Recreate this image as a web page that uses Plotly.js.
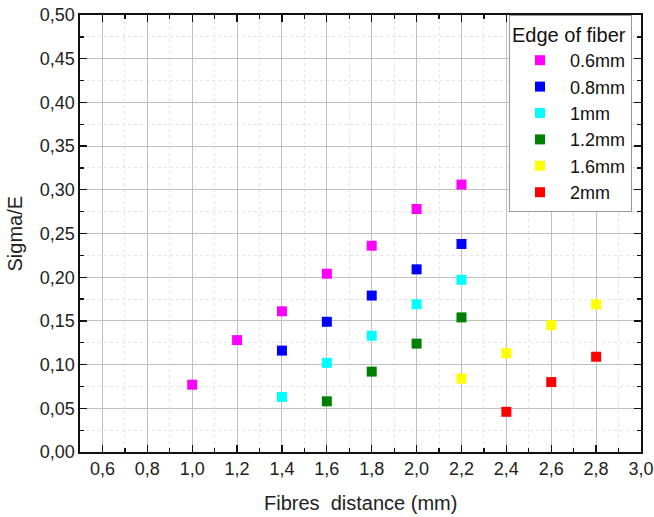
<!DOCTYPE html>
<html><head><meta charset="utf-8">
<script src="https://cdn.plot.ly/plotly-3.0.1.min.js"></script>
<style>html,body{margin:0;padding:0;background:#fff}#chart{width:654px;height:517px}</style>
</head><body><div id="chart"></div>
<script>
const seriesNames = ["0.6mm", "0.8mm", "1mm", "1.2mm", "1.6mm", "2mm"];
const seriesColors = ["#FF00FF", "#0000FF", "#00FFFF", "#008000", "#FFFF00", "#FF0000"];
const x06 = [1.0, 1.2, 1.4, 1.6, 1.8, 2.0, 2.2];
const y06 = [0.077, 0.128, 0.161, 0.204, 0.236, 0.278, 0.306];
const x08 = [1.4, 1.6, 1.8, 2.0, 2.2];
const y08 = [0.116, 0.149, 0.179, 0.209, 0.238];
const x10 = [1.4, 1.6, 1.8, 2.0, 2.2];
const y10 = [0.063, 0.102, 0.133, 0.169, 0.197];
const x12 = [1.6, 1.8, 2.0, 2.2];
const y12 = [0.058, 0.092, 0.124, 0.154];
const x16 = [2.2, 2.4, 2.6, 2.8];
const y16 = [0.084, 0.113, 0.145, 0.169];
const x20 = [2.4, 2.6, 2.8];
const y20 = [0.046, 0.080, 0.109];
const xs = [x06, x08, x10, x12, x16, x20];
const ys = [y06, y08, y10, y12, y16, y20];

const font = "Liberation Sans, Arial, sans-serif";
const traces = seriesNames.map((n, i) => ({
  type: "scatter", mode: "markers", name: n, x: xs[i], y: ys[i],
  marker: {symbol: "square", size: 10, color: seriesColors[i], line: {width: 0}}
}));

const axisCommon = {
  showline: true, linecolor: "#111", linewidth: 1.6, mirror: "allticks",
  ticks: "inside", ticklen: 7, tickwidth: 1.3, tickcolor: "#111",
  showgrid: true, gridcolor: "#c0c0c0", gridwidth: 1, zeroline: false,
  tickfont: {family: font, size: 18, color: "#222"}
};
const layout = {
  width: 654, height: 517,
  margin: {l: 80, r: 13, t: 15, b: 65},
  paper_bgcolor: "#fff", plot_bgcolor: "#fff",
  separators: ", ",
  showlegend: true,
  xaxis: Object.assign({}, axisCommon, {
    range: [0.5, 3.0], tick0: 0.6, dtick: 0.2, tickformat: ".1f",
    minor: {dtick: 0.1, tick0: 0.5, ticks: "inside", ticklen: 4, tickcolor: "#111", showgrid: true, gridcolor: "#e4e4e4", griddash: "dot"}
  }),
  yaxis: Object.assign({}, axisCommon, {
    range: [0, 0.5], tick0: 0, dtick: 0.05, tickformat: ".2f",
    minor: {dtick: 0.025, ticks: "inside", ticklen: 4, tickcolor: "#111", showgrid: true, gridcolor: "#e4e4e4", griddash: "dot"}
  }),
  legend: {
    x: 0.984, xanchor: "right", y: 1.0, yanchor: "top",
    bgcolor: "#fff", bordercolor: "#999", borderwidth: 1,
    font: {family: font, size: 18, color: "#111"},
    title: {text: "Edge of fiber", font: {family: font, size: 20, color: "#111"}},
    tracegroupgap: 0, itemwidth: 50
  },
  annotations: [
    {text: "Sigma/E", xref: "paper", yref: "paper", x: -0.1176, y: 0.5, xanchor: "center", yanchor: "middle",
     textangle: -90, showarrow: false, font: {family: font, size: 20, color: "#222"}},
    {text: "Fibres  distance (mm)", xref: "paper", yref: "paper", x: 0.5, y: -0.1465, xanchor: "center", yanchor: "bottom",
     showarrow: false, font: {family: font, size: 20, color: "#222"}}
  ]
};
Plotly.newPlot("chart", traces, layout, {displayModeBar: false, staticPlot: true});
</script></body></html>
